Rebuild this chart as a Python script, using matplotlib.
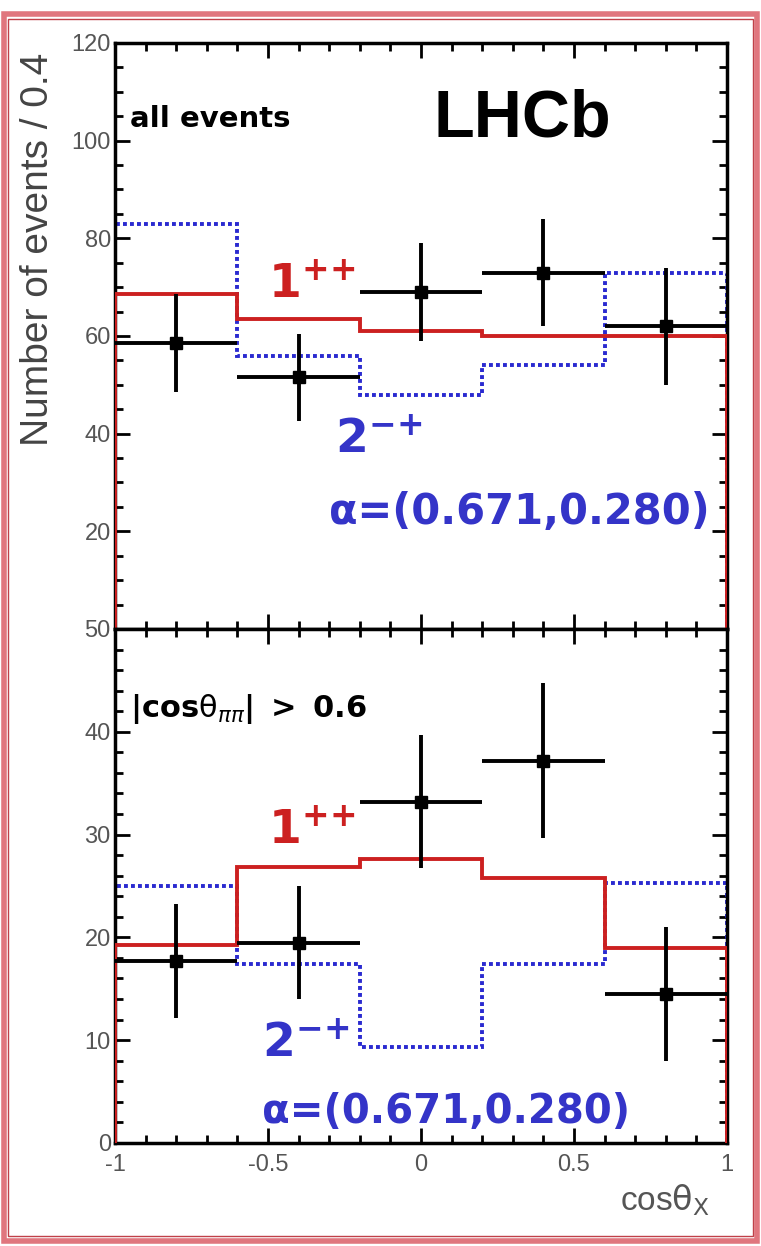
import matplotlib
matplotlib.use("Agg")
import matplotlib.pyplot as plt
from matplotlib.patches import Rectangle
from matplotlib.ticker import MultipleLocator

plt.rcParams['font.family'] = ['Liberation Sans', 'DejaVu Sans']
plt.rcParams['mathtext.fontset'] = 'dejavusans'

# data
bin_edges = [-1.0, -0.6, -0.2, 0.2, 0.6, 1.0]
x_centers = [-0.8, -0.4, 0.0, 0.4, 0.8]

top_data = [58.5, 51.5, 69.0, 73.0, 62.0]
top_err = [10.0, 9.0, 10.0, 11.0, 12.0]
top_1pp = [68.5, 63.5, 61.0, 60.0, 60.0]
top_2mp = [83.0, 56.0, 48.0, 54.0, 73.0]

bot_data = [17.7, 19.5, 33.2, 37.2, 14.5]
bot_err = [5.5, 5.5, 6.5, 7.5, 6.5]
bot_1pp = [19.3, 26.8, 27.6, 25.8, 19.0]
bot_2mp = [25.0, 17.4, 9.3, 17.4, 25.3]

RED = '#cc2020'
BLUE = '#2a2ad0'
TXT_BLUE = '#3434c8'
GRAY = '#555555'
WIDE = ['DejaVu Sans']
LBL_1PP = r'$\mathbf{1}^{\mathbf{{+}{+}}}$'
LBL_2MP = r'$\mathbf{2}^{\mathbf{{-}{+}}}$'

fig = plt.figure(figsize=(7.61, 12.46), dpi=100)

def style(ax, ymax, major, minor):
    ax.set_xlim(-1, 1)
    ax.set_ylim(0, ymax)
    ax.xaxis.set_major_locator(MultipleLocator(0.5))
    ax.xaxis.set_minor_locator(MultipleLocator(0.1))
    ax.yaxis.set_major_locator(MultipleLocator(major))
    ax.yaxis.set_minor_locator(MultipleLocator(minor))
    ax.tick_params(which='both', direction='in', top=True, right=True,
                   width=2, color='black', labelcolor=GRAY, labelsize=17)
    ax.tick_params(which='major', length=11)
    ax.tick_params(which='minor', length=6)
    ax.tick_params(axis='y', pad=3)
    ax.tick_params(axis='x', pad=8)
    for s in ax.spines.values():
        s.set_linewidth(2.5)

def draw(ax, data, err, h1, h2):
    ax.stairs(h2, bin_edges, baseline=0, color=BLUE, lw=2.8,
              linestyle=(0, (1, 0.8)), zorder=2)
    ax.stairs(h1, bin_edges, baseline=0, color=RED, lw=2.8, zorder=3)
    ax.errorbar(x_centers, data, yerr=err, xerr=0.2, fmt='s', color='black',
                ms=8, elinewidth=2.8, capsize=0, zorder=4)

# top panel
ax1 = fig.add_axes([0.1511, 0.4952, 0.8042, 0.4703])
style(ax1, 120, 20, 5)
draw(ax1, top_data, top_err, top_1pp, top_2mp)
ax1.set_yticks([20, 40, 60, 80, 100, 120])
ax1.set_xticklabels([])
ax1.set_ylabel('Number of events / 0.4', fontsize=28, color='#444444')
ax1.yaxis.set_label_coords(-0.097, 0.647)
ax1.text(0.025, 0.87, 'all events', transform=ax1.transAxes, fontsize=21,
         fontweight='bold', va='center', family=WIDE)
ax1.text(0.52, 0.87, 'LHCb', transform=ax1.transAxes, fontsize=48,
         fontweight='bold', va='center')
ax1.text(0.25, 0.585, LBL_1PP, transform=ax1.transAxes,
         fontsize=34, color=RED, va='center')
ax1.text(0.36, 0.32, LBL_2MP, transform=ax1.transAxes,
         fontsize=34, color=TXT_BLUE, va='center')
ax1.text(0.35, 0.20, 'α=(0.671,0.280)', transform=ax1.transAxes,
         fontsize=30, color=TXT_BLUE, fontweight='bold', va='center',
         family=WIDE)

# bottom panel
ax2 = fig.add_axes([0.1511, 0.0827, 0.8042, 0.4125])
style(ax2, 50, 10, 2)
draw(ax2, bot_data, bot_err, bot_1pp, bot_2mp)
ax2.set_yticks([0, 10, 20, 30, 40, 50])
ax2.set_xticks([-1, -0.5, 0, 0.5, 1])
ax2.set_xticklabels(['-1', '-0.5', '0', '0.5', '1'])
ax2.text(0.025, 0.845, r'$\mathbf{|cos}\mathrm{\theta}_{\pi\pi}\mathbf{|\ >\ 0.6}$',
         transform=ax2.transAxes, fontsize=22, va='center')
ax2.text(0.25, 0.605, LBL_1PP, transform=ax2.transAxes,
         fontsize=34, color=RED, va='center')
ax2.text(0.24, 0.19, LBL_2MP, transform=ax2.transAxes,
         fontsize=34, color=TXT_BLUE, va='center')
ax2.text(0.24, 0.06, 'α=(0.671,0.280)', transform=ax2.transAxes,
         fontsize=29, color=TXT_BLUE, fontweight='bold', va='center',
         family=WIDE)
ax2.text(0.972, -0.111, r'cos$\mathrm{\theta_{X}}$', transform=ax2.transAxes,
         fontsize=24, color=GRAY, ha='right', va='center')

# frame around the figure
fig.patches.append(Rectangle((0.005, 0.004), 0.99, 0.985, transform=fig.transFigure,
                             fill=False, edgecolor='#e0767e', lw=4))
fig.patches.append(Rectangle((0.011, 0.008), 0.978, 0.977, transform=fig.transFigure,
                             fill=False, edgecolor='#c04048', lw=1))

fig.savefig('out.png', dpi=100)
